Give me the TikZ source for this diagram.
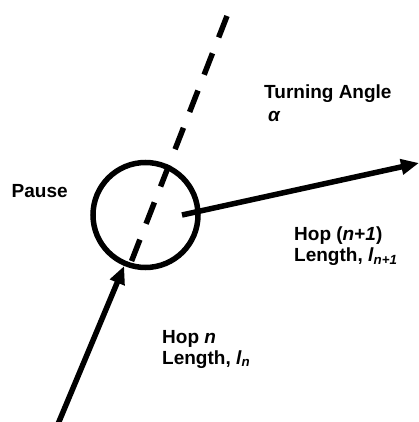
\documentclass[tikz,border=0pt]{standalone}
\usepackage{fontspec}
\setmainfont{Liberation Sans}
\usetikzlibrary{arrows.meta}
\begin{document}
\begin{tikzpicture}[x=1pt,y=-1pt,
  lbl/.style={anchor=base west,inner sep=0pt,font=\fontsize{19}{22}\selectfont\bfseries},
  thickline/.style={line width=5.5pt},
  arr/.style={thickline,-{Triangle[length=18pt,width=15pt]}},
  dashline/.style={thickline,dash pattern=on 23pt off 17pt}]
\useasboundingbox[fill=white] (0,0) rectangle (419,422);
% pause circle
\node[circle,draw,thickline,minimum size=105pt,inner sep=0pt] (circ) at (145.5,215) {};
% dashed continuation line
\coordinate (dtop) at (227,16);
\coordinate (dend) at (130,265);
\draw[dashline] (dtop) -- (dend);
% incoming hop
\coordinate (hnstart) at (58,424);
\draw[arr] (hnstart) -- (circ);
% outgoing hop
\coordinate (h1start) at (182,215);
\coordinate (h1end) at (419,163);
\draw[arr] (h1start) -- (h1end);
% labels
\node[lbl] (ta) at (264,99) {Turning Angle};
\node[lbl] (alpha) at (268,122) {\textit{α}};
\node[lbl] (pause) at (11.5,197) {Pause};
\node[lbl] (hop1) at (294,240) {Hop (\textit{n}+\textit{1})};
\node[lbl] (len1) at (294,261) {Length, \textit{l}\textsubscript{\textit{n+1}}};
\node[lbl] (hopn) at (162,343) {Hop \textit{n}};
\node[lbl] (lenn) at (162,364) {Length, \textit{l}\textsubscript{\textit{n}}};
\end{tikzpicture}
\end{document}
